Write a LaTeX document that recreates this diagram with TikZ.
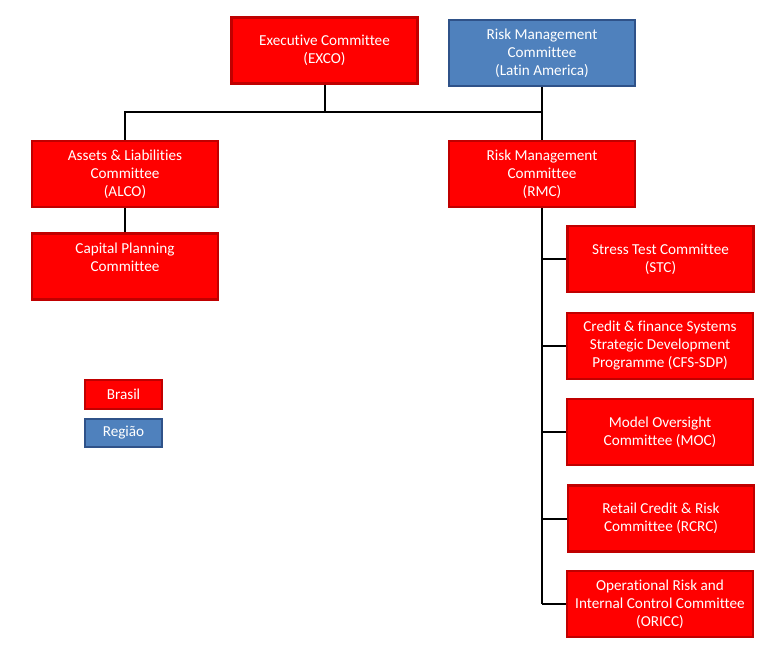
\documentclass[tikz,border=0pt]{standalone}
\usepackage{fontspec}
\setmainfont[Ligatures={NoCommon}]{Carlito}
\usetikzlibrary{positioning}
\definecolor{brasilred}{HTML}{FF0000}
\definecolor{brasilline}{HTML}{C00000}
\definecolor{regiaoblue}{HTML}{4F81BD}
\definecolor{regiaoline}{HTML}{2F5289}
\tikzstyle{comite} = [draw=brasilline, fill=brasilred, line width=2.5pt, rectangle, text=white, align=center, minimum width=186pt, minimum height=66pt, inner sep=0pt, font=\fontsize{15.2}{18}\selectfont]
\tikzstyle{regional} = [comite, draw=regiaoline, fill=regiaoblue]
\tikzstyle{legenda} = [comite, minimum width=77pt, minimum height=29pt]
\tikzstyle{ligacao} = [line width=2pt, black]

\begin{document}
\begin{tikzpicture}[x=1pt, y=-1pt]
	\useasboundingbox (0,0) rectangle (769,661);
	\node [comite] (exco) at (324.5,50.5) {Executive Committee\\(EXCO)};
	\node [regional] (rmla) at (542,53) {Risk Management\\Committee\\(Latin America)};
	\node [comite] (alco) at (125,174) {Assets \& Liabilities\\Committee\\(ALCO)};
	\node [comite, below=24pt of alco] (cpc) {Capital Planning\\Committee\\\mbox{}};
	\node [comite] (rmc) at (542,174) {Risk Management\\Committee\\(RMC)};
	\node [comite] (stc) at (660.5,259) {Stress Test Committee\\(STC)};
	\node [comite] (cfs) at (660,346) {Credit \& finance Systems\\Strategic Development\\Programme (CFS-SDP)};
	\node [comite] (moc) at (660,432) {Model Oversight\\Committee (MOC)};
	\node [comite] (rcrc) at (661,518.5) {Retail Credit \& Risk\\Committee (RCRC)};
	\node [comite] (oricc) at (660,604) {Operational Risk and\\Internal Control Committee\\(ORICC)};
	\node [legenda] (brasil) at (123.5,394.5) {Brasil};
	\node [legenda, regional, minimum width=77pt, minimum height=28pt] (regiao) at (123.5,433) {Região};

	\coordinate (barra) at (324.5,112);
	\draw [ligacao] (exco.south) -- (barra);
	\draw [ligacao] (alco.north) |- (barra) -| (rmc.north);
	\draw [ligacao] (rmla.south) -- (rmc.north);
	\draw [ligacao] (alco.south) -- (cpc.north);
	\coordinate (tronco) at (rmc.south |- oricc.west);
	\draw [ligacao] (rmc.south) -- (tronco);
	\foreach \filho in {stc, cfs, moc, rcrc, oricc}
		\draw [ligacao] (rmc.south |- \filho.west) -- (\filho.west);
\end{tikzpicture}
\end{document}
